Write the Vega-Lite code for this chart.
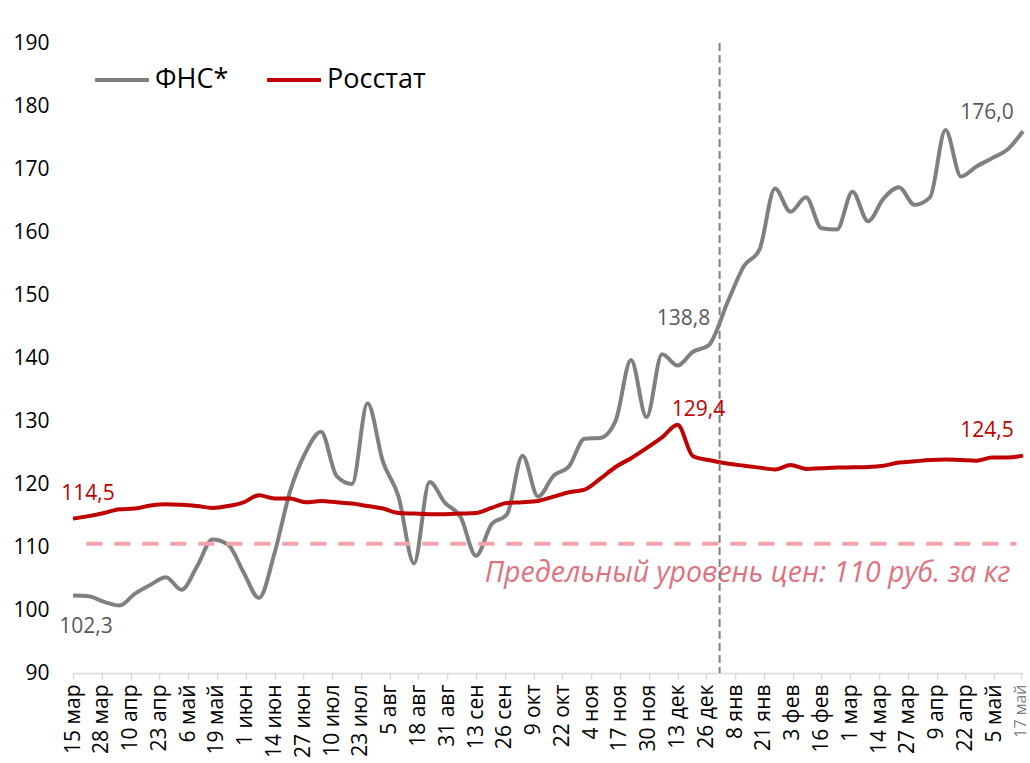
{
  "$schema": "https://vega.github.io/schema/vega-lite/v6.json",
  "width": 950,
  "height": 630,
  "autosize": {"type": "none"},
  "padding": {"left": 73, "top": 43, "right": 7, "bottom": 90},
  "background": "white",
  "config": {"view": {"stroke": null}, "font": "Open Sans"},
  "datasets": {
    "prices": [
      {"date": "2024-03-15", "fns": 102.3, "rosstat": 114.5},
      {"date": "2024-03-22", "fns": 102.2, "rosstat": 114.9},
      {"date": "2024-03-29", "fns": 101.3, "rosstat": 115.4},
      {"date": "2024-04-05", "fns": 100.7, "rosstat": 116.0},
      {"date": "2024-04-12", "fns": 102.6, "rosstat": 116.1},
      {"date": "2024-04-19", "fns": 104.0, "rosstat": 116.6},
      {"date": "2024-04-26", "fns": 105.2, "rosstat": 116.8},
      {"date": "2024-05-03", "fns": 103.2, "rosstat": 116.7},
      {"date": "2024-05-10", "fns": 106.9, "rosstat": 116.5},
      {"date": "2024-05-17", "fns": 111.2, "rosstat": 116.2},
      {"date": "2024-05-24", "fns": 110.4, "rosstat": 116.5},
      {"date": "2024-05-31", "fns": 106.0, "rosstat": 117.1},
      {"date": "2024-06-07", "fns": 101.9, "rosstat": 118.2},
      {"date": "2024-06-14", "fns": 109.0, "rosstat": 117.7},
      {"date": "2024-06-21", "fns": 118.8, "rosstat": 117.7},
      {"date": "2024-06-28", "fns": 125.0, "rosstat": 117.1},
      {"date": "2024-07-05", "fns": 128.3, "rosstat": 117.3},
      {"date": "2024-07-12", "fns": 121.3, "rosstat": 117.1},
      {"date": "2024-07-19", "fns": 120.0, "rosstat": 116.9},
      {"date": "2024-07-26", "fns": 132.8, "rosstat": 116.5},
      {"date": "2024-08-02", "fns": 123.5, "rosstat": 116.1},
      {"date": "2024-08-09", "fns": 118.0, "rosstat": 115.4},
      {"date": "2024-08-16", "fns": 107.4, "rosstat": 115.3},
      {"date": "2024-08-23", "fns": 120.3, "rosstat": 115.2},
      {"date": "2024-08-30", "fns": 117.0, "rosstat": 115.2},
      {"date": "2024-09-06", "fns": 114.8, "rosstat": 115.3},
      {"date": "2024-09-13", "fns": 108.6, "rosstat": 115.4},
      {"date": "2024-09-20", "fns": 113.6, "rosstat": 116.2},
      {"date": "2024-09-27", "fns": 115.2, "rosstat": 117.0},
      {"date": "2024-10-04", "fns": 124.5, "rosstat": 117.1},
      {"date": "2024-10-11", "fns": 118.0, "rosstat": 117.3},
      {"date": "2024-10-18", "fns": 121.3, "rosstat": 118.0},
      {"date": "2024-10-25", "fns": 122.8, "rosstat": 118.7},
      {"date": "2024-11-01", "fns": 127.2, "rosstat": 119.1},
      {"date": "2024-11-08", "fns": 127.3, "rosstat": 120.8},
      {"date": "2024-11-15", "fns": 130.0, "rosstat": 122.7},
      {"date": "2024-11-22", "fns": 139.7, "rosstat": 124.1},
      {"date": "2024-11-29", "fns": 130.6, "rosstat": 125.7},
      {"date": "2024-12-06", "fns": 140.6, "rosstat": 127.4},
      {"date": "2024-12-13", "fns": 138.8, "rosstat": 129.4},
      {"date": "2024-12-20", "fns": 141.0, "rosstat": 124.4},
      {"date": "2024-12-27", "fns": 142.0, "rosstat": 123.8},
      {"date": "2025-01-05", "fns": 149.2, "rosstat": 123.2},
      {"date": "2025-01-12", "fns": 154.6, "rosstat": 122.9},
      {"date": "2025-01-19", "fns": 157.2, "rosstat": 122.6},
      {"date": "2025-01-26", "fns": 166.9, "rosstat": 122.3},
      {"date": "2025-02-02", "fns": 163.2, "rosstat": 123.0},
      {"date": "2025-02-09", "fns": 165.5, "rosstat": 122.4},
      {"date": "2025-02-16", "fns": 160.6, "rosstat": 122.5},
      {"date": "2025-02-23", "fns": 160.4, "rosstat": 122.6},
      {"date": "2025-03-02", "fns": 166.4, "rosstat": 122.65},
      {"date": "2025-03-09", "fns": 161.7, "rosstat": 122.7},
      {"date": "2025-03-16", "fns": 165.3, "rosstat": 122.9},
      {"date": "2025-03-23", "fns": 167.1, "rosstat": 123.4},
      {"date": "2025-03-30", "fns": 164.3, "rosstat": 123.6},
      {"date": "2025-04-06", "fns": 165.5, "rosstat": 123.8},
      {"date": "2025-04-13", "fns": 176.2, "rosstat": 123.9},
      {"date": "2025-04-20", "fns": 168.8, "rosstat": 123.8},
      {"date": "2025-04-27", "fns": 170.4, "rosstat": 123.7},
      {"date": "2025-05-04", "fns": 171.7, "rosstat": 124.2},
      {"date": "2025-05-11", "fns": 173.1, "rosstat": 124.2},
      {"date": "2025-05-18", "fns": 176.0, "rosstat": 124.5}
    ],
    "labels": [
      {"date": "2024-03-15", "value": 114.5, "label": "114,5"},
      {"date": "2024-03-15", "value": 102.3, "label": "102,3"},
      {"date": "2024-12-13", "value": 138.8, "label": "138,8"},
      {"date": "2024-12-13", "value": 129.4, "label": "129,4"},
      {"date": "2025-05-18", "value": 176.0, "label": "176,0"},
      {"date": "2025-05-18", "value": 124.5, "label": "124,5"}
    ],
    "refs": [
      {"start": "2024-03-21", "end": "2025-05-15", "level": 110.5, "note": "Предельный уровень цен: 110 руб. за кг"}
    ],
    "year": [{"date": "2025-01-01"}]
  },
  "layer": [
    {
      "data": {"name": "prices"},
      "transform": [{"fold": ["fns", "rosstat"], "as": ["key", "val"]}, {"lookup": "key", "from": {"data": {"values": [{"key": "fns", "name": "ФНС*"}, {"key": "rosstat", "name": "Росстат"}]}, "key": "key", "fields": ["name"]}}],
      "mark": {"type": "line", "strokeWidth": 4, "interpolate": "monotone"},
      "encoding": {
        "x": {
          "field": "date", "type": "temporal", "title": null,
          "scale": {"type": "utc", "domain": [{"year": 2024, "month": 3, "date": 15, "utc": true}, {"year": 2025, "month": 5, "date": 18, "utc": true}]},
          "axis": {
            "values": [
              {"year": 2024, "month": 3, "date": 15, "utc": true},
              {"year": 2024, "month": 3, "date": 28, "utc": true},
              {"year": 2024, "month": 4, "date": 10, "utc": true},
              {"year": 2024, "month": 4, "date": 23, "utc": true},
              {"year": 2024, "month": 5, "date": 6, "utc": true},
              {"year": 2024, "month": 5, "date": 19, "utc": true},
              {"year": 2024, "month": 6, "date": 1, "utc": true},
              {"year": 2024, "month": 6, "date": 14, "utc": true},
              {"year": 2024, "month": 6, "date": 27, "utc": true},
              {"year": 2024, "month": 7, "date": 10, "utc": true},
              {"year": 2024, "month": 7, "date": 23, "utc": true},
              {"year": 2024, "month": 8, "date": 5, "utc": true},
              {"year": 2024, "month": 8, "date": 18, "utc": true},
              {"year": 2024, "month": 8, "date": 31, "utc": true},
              {"year": 2024, "month": 9, "date": 13, "utc": true},
              {"year": 2024, "month": 9, "date": 26, "utc": true},
              {"year": 2024, "month": 10, "date": 9, "utc": true},
              {"year": 2024, "month": 10, "date": 22, "utc": true},
              {"year": 2024, "month": 11, "date": 4, "utc": true},
              {"year": 2024, "month": 11, "date": 17, "utc": true},
              {"year": 2024, "month": 11, "date": 30, "utc": true},
              {"year": 2024, "month": 12, "date": 13, "utc": true},
              {"year": 2024, "month": 12, "date": 26, "utc": true},
              {"year": 2025, "month": 1, "date": 8, "utc": true},
              {"year": 2025, "month": 1, "date": 21, "utc": true},
              {"year": 2025, "month": 2, "date": 3, "utc": true},
              {"year": 2025, "month": 2, "date": 16, "utc": true},
              {"year": 2025, "month": 3, "date": 1, "utc": true},
              {"year": 2025, "month": 3, "date": 14, "utc": true},
              {"year": 2025, "month": 3, "date": 27, "utc": true},
              {"year": 2025, "month": 4, "date": 9, "utc": true},
              {"year": 2025, "month": 4, "date": 22, "utc": true},
              {"year": 2025, "month": 5, "date": 5, "utc": true},
              {"year": 2025, "month": 5, "date": 17, "utc": true}
            ],
            "tickCount": 60,
            "labelExpr": "utcdate(datum.value) + ' ' + ['янв','фев','мар','апр','май','июн','июл','авг','сен','окт','ноя','дек'][utcmonth(datum.value)]",
            "labelAngle": 270,
            "labelAlign": "right",
            "labelBaseline": "middle",
            "labelPadding": 5,
            "labelOverlap": false,
            "labelFlush": false,
            "labelBound": false,
            "labelFontSize": {"condition": {"test": "utcyear(datum.value) == 2025 && utcmonth(datum.value) == 4 && utcdate(datum.value) == 17", "value": 16}, "value": 21},
            "labelColor": {"condition": {"test": "utcyear(datum.value) == 2025 && utcmonth(datum.value) == 4 && utcdate(datum.value) == 17", "value": "#7f7f7f"}, "value": "#000000"},
            "domainColor": "#d9d9d9",
            "domainWidth": 1.5,
            "tickColor": "#d9d9d9",
            "tickWidth": 1.5,
            "tickSize": 6,
            "grid": false
          }
        },
        "y": {
          "field": "val", "type": "quantitative", "title": null,
          "scale": {"domain": [90, 190], "nice": false},
          "axis": {
            "values": [90, 100, 110, 120, 130, 140, 150, 160, 170, 180, 190],
            "grid": false, "domain": false, "ticks": false, "tickSize": 0,
            "labelPadding": 24, "labelFontSize": 21, "labelColor": "#000000"
          }
        },
        "color": {
          "field": "name", "type": "nominal",
          "scale": {"domain": ["ФНС*", "Росстат"], "range": ["#808080", "#c00000"]},
          "legend": {
            "orient": "none", "legendX": 20, "legendY": 8, "direction": "horizontal", "title": null,
            "symbolType": "stroke", "symbolStrokeWidth": 4, "symbolSize": 2900,
            "labelFontSize": 27, "labelColor": "#000000", "labelOffset": 4,
            "columnPadding": 30, "padding": 0
          }
        }
      }
    },
    {
      "data": {"name": "refs"},
      "mark": {"type": "rule", "color": "#f4a3ab", "strokeWidth": 4, "strokeDash": [16, 12]},
      "encoding": {
        "x": {"field": "start", "type": "temporal", "title": null},
        "x2": {"field": "end"},
        "y": {"field": "level", "type": "quantitative", "title": null}
      }
    },
    {
      "data": {"name": "refs"},
      "mark": {"type": "text", "align": "right", "baseline": "middle", "fontStyle": "italic", "fontSize": 28.5, "color": "#e0727e", "dx": -6, "dy": 29},
      "encoding": {
        "x": {"field": "end", "type": "temporal", "title": null},
        "y": {"field": "level", "type": "quantitative", "title": null},
        "text": {"field": "note"}
      }
    },
    {
      "data": {"name": "year"},
      "mark": {"type": "rule", "color": "#808080", "strokeWidth": 2, "strokeDash": [8, 4]},
      "encoding": {
        "x": {"field": "date", "type": "temporal", "title": null}
      }
    },
    {
      "data": {"name": "labels"},
      "transform": [{"filter": "datum.label == '114,5'"}],
      "mark": {"type": "text", "fontSize": 21, "color": "#c00000", "align": "center", "baseline": "middle", "dx": 15, "dy": -25},
      "encoding": {"x": {"field": "date", "type": "temporal", "title": null}, "y": {"field": "value", "type": "quantitative", "title": null}, "text": {"field": "label"}}
    },
    {
      "data": {"name": "labels"},
      "transform": [{"filter": "datum.label == '102,3'"}],
      "mark": {"type": "text", "fontSize": 21, "color": "#595959", "align": "center", "baseline": "middle", "dx": 13, "dy": 31},
      "encoding": {"x": {"field": "date", "type": "temporal", "title": null}, "y": {"field": "value", "type": "quantitative", "title": null}, "text": {"field": "label"}}
    },
    {
      "data": {"name": "labels"},
      "transform": [{"filter": "datum.label == '138,8'"}],
      "mark": {"type": "text", "fontSize": 21, "color": "#595959", "align": "center", "baseline": "middle", "dx": 6, "dy": -47},
      "encoding": {"x": {"field": "date", "type": "temporal", "title": null}, "y": {"field": "value", "type": "quantitative", "title": null}, "text": {"field": "label"}}
    },
    {
      "data": {"name": "labels"},
      "transform": [{"filter": "datum.label == '129,4'"}],
      "mark": {"type": "text", "fontSize": 21, "color": "#c00000", "align": "center", "baseline": "middle", "dx": 21, "dy": -15},
      "encoding": {"x": {"field": "date", "type": "temporal", "title": null}, "y": {"field": "value", "type": "quantitative", "title": null}, "text": {"field": "label"}}
    },
    {
      "data": {"name": "labels"},
      "transform": [{"filter": "datum.label == '176,0'"}],
      "mark": {"type": "text", "fontSize": 21, "color": "#595959", "align": "center", "baseline": "middle", "dx": -36, "dy": -18},
      "encoding": {"x": {"field": "date", "type": "temporal", "title": null}, "y": {"field": "value", "type": "quantitative", "title": null}, "text": {"field": "label"}}
    },
    {
      "data": {"name": "labels"},
      "transform": [{"filter": "datum.label == '124,5'"}],
      "mark": {"type": "text", "fontSize": 21, "color": "#c00000", "align": "center", "baseline": "middle", "dx": -36, "dy": -25},
      "encoding": {"x": {"field": "date", "type": "temporal", "title": null}, "y": {"field": "value", "type": "quantitative", "title": null}, "text": {"field": "label"}}
    }
  ]
}
